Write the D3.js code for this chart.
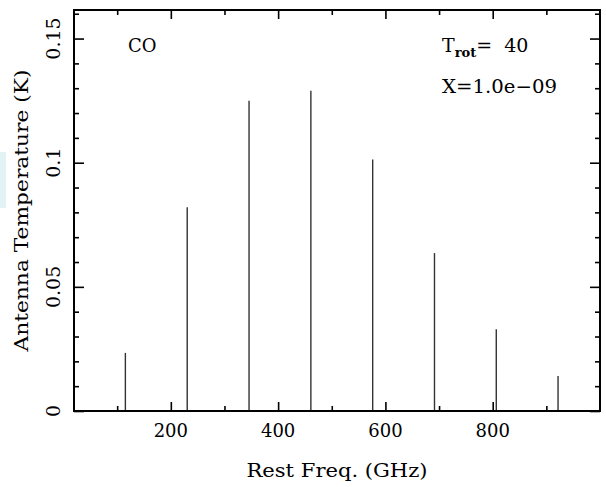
<!DOCTYPE html>
<html>
<head>
<meta charset="utf-8">
<script src="https://cdn.jsdelivr.net/npm/d3@7"></script>
<style>
  body { margin: 0; background: #fff; }
  svg text { font-family: "DejaVu Serif", serif; fill: #000; }
</style>
</head>
<body>
<div id="chart"></div>
<script>
// CO rotational lines, Trot = 40 K
const freqs = [115.27, 230.54, 345.80, 461.04, 576.27, 691.47, 806.65, 921.80];
const temps = [0.0234, 0.0821, 0.125, 0.129, 0.1013, 0.0636, 0.0329, 0.0141];
const xMajor = [200, 400, 600, 800];
const xMinor = [100, 300, 500, 700, 900];
const yMajor = [0, 0.05, 0.1, 0.15];
const yLabels = ["0", "0.05", "0.1", "0.15"];
const yMinor = [0.01, 0.02, 0.03, 0.04, 0.06, 0.07, 0.08, 0.09, 0.11, 0.12, 0.13, 0.14, 0.16];

const W = 606, H = 487;
const margin = { top: 10, right: 6, bottom: 76, left: 74 };
const width = W - margin.left - margin.right;
const height = H - margin.top - margin.bottom;

const svg = d3.select("#chart").append("svg")
    .attr("width", W).attr("height", H);

// light cyan strip at the left edge
svg.append("rect")
    .attr("x", 0).attr("y", 152).attr("width", 6).attr("height", 56)
    .attr("fill", "#e1f3f3");

const g = svg.append("g").attr("transform", `translate(${margin.left},${margin.top})`);

const x = d3.scaleLinear().domain([19.5, 1000]).range([0, width]);
const y = d3.scaleLinear().domain([0, 0.1615]).range([height, 0]);

// ticks (all pointing inward)
function ticks(axis, vals, size, transform) {
    const a = g.append("g")
        .attr("transform", transform)
        .call(axis.tickValues(vals).tickSize(-size).tickFormat(""));
    a.select(".domain").remove();
    a.selectAll("line").attr("stroke", "#000").attr("stroke-width", 1.6);
}
ticks(d3.axisBottom(x), xMajor, 9, `translate(0,${height})`);
ticks(d3.axisBottom(x), xMinor, 5, `translate(0,${height})`);
ticks(d3.axisTop(x), xMajor, 9, "translate(0,0)");
ticks(d3.axisTop(x), xMinor, 5, "translate(0,0)");
ticks(d3.axisLeft(y), yMajor, 10, "translate(0,0)");
ticks(d3.axisLeft(y), yMinor, 5, "translate(0,0)");
ticks(d3.axisRight(y), yMajor, 10, `translate(${width},0)`);
ticks(d3.axisRight(y), yMinor, 5, `translate(${width},0)`);

// spectral lines
g.selectAll(".line")
    .data(freqs.map((f, i) => ({ f: f, t: temps[i] })))
    .join("line")
    .attr("class", "line")
    .attr("x1", d => x(d.f)).attr("x2", d => x(d.f))
    .attr("y1", y(0)).attr("y2", d => y(d.t))
    .attr("stroke", "#333").attr("stroke-width", 1.4);

// frame
g.append("rect")
    .attr("width", width).attr("height", height)
    .attr("fill", "none").attr("stroke", "#000").attr("stroke-width", 2);

// tick labels
g.selectAll(".xlab")
    .data(xMajor)
    .join("text")
    .attr("x", d => x(d)).attr("y", height + 26)
    .attr("text-anchor", "middle")
    .style("font-size", "18px")
    .text(d => d);

g.selectAll(".ylab")
    .data(yMajor)
    .join("text")
    .attr("transform", d => `translate(-14,${y(d)}) rotate(-90)`)
    .attr("text-anchor", "middle")
    .style("font-size", "19px")
    .text((d, i) => yLabels[i]);

// axis titles
g.append("text")
    .attr("x", width / 2).attr("y", height + 66)
    .attr("text-anchor", "middle")
    .attr("textLength", 181).attr("lengthAdjust", "spacingAndGlyphs")
    .style("font-size", "18px")
    .text("Rest Freq. (GHz)");

g.append("text")
    .attr("transform", `translate(-46,${height / 2}) rotate(-90)`)
    .attr("text-anchor", "middle")
    .attr("textLength", 282).attr("lengthAdjust", "spacingAndGlyphs")
    .style("font-size", "18px")
    .text("Antenna Temperature (K)");

// annotations
g.append("text")
    .attr("x", 54).attr("y", 42)
    .style("font-size", "18px")
    .text("CO");

const tr = g.append("text")
    .attr("x", 368).attr("y", 42)
    .style("font-size", "19px");
tr.append("tspan").text("T");
tr.append("tspan").attr("dy", 5).style("font-size", "13px").style("font-weight", "bold").text("rot");
tr.append("tspan").attr("dy", -5).text("= \u00a040");

g.append("text")
    .attr("x", 368).attr("y", 83)
    .attr("textLength", 115).attr("lengthAdjust", "spacingAndGlyphs")
    .style("font-size", "19px")
    .text("X=1.0e\u221209");
</script>
</body>
</html>
